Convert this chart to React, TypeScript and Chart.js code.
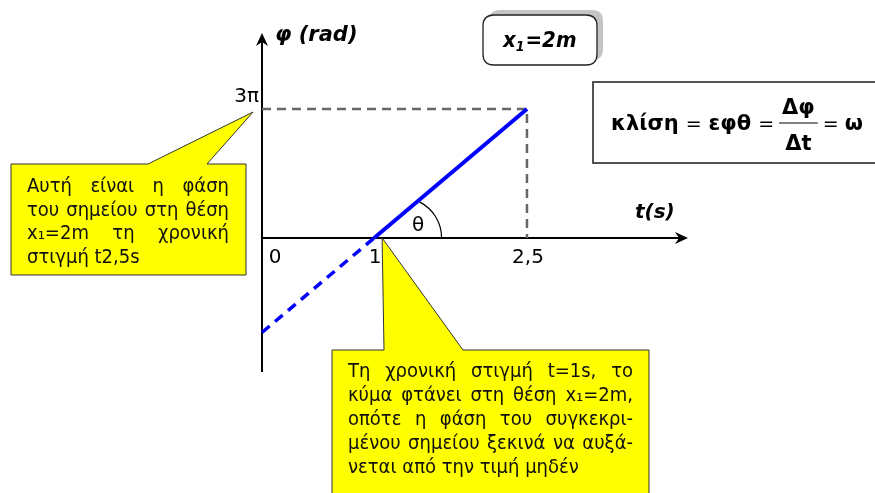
import React, { useEffect, useRef } from "react";
import { Chart, registerables } from "chart.js";

Chart.register(...registerables);

const W = 875;
const H = 493;
const FONT_C = '"DejaVu Sans Condensed", "DejaVu Sans", sans-serif';
const FONT = '"DejaVu Sans", sans-serif';

// φ in units of π rad, t in s
const phaseT = [1, 2.5];
const phaseV = [0, 3];
const extT = [-0.1, 1];
const extV = [-2.2, 0];
const guideT = [-0.1, 2.5, 2.5];
const guideV = [3, 3, 0];
const xTicks = [0, 1, 2.5];
const xTickLabels = ["0", "1", "2,5"];
const yTicks = [3];
const yTickLabels = ["3π"];
const xAxisTitle = "t(s)";
const yAxisTitle = "φ (rad)";
const angleLabel = "θ";
const noteTop = ["Αυτή είναι η φάση", "του σημείου στη θέση", "x₁=2m τη χρονική", "στιγμή t2,5s"];
const noteBottom = [
  "Τη χρονική στιγμή t=1s, το",
  "κύμα φτάνει στη θέση x₁=2m,",
  "οπότε η φάση του συγκεκρι-",
  "μένου σημείου ξεκινά να αυξά-",
  "νεται από την τιμή μηδέν",
];
const badgeParts = ["x", "1", "=2m"];
const formulaParts = ["κλίση", "=", "εφθ", "=", "Δφ", "Δt", "=", "ω"];

function pts(xs: number[], ys: number[]) {
  return xs.map((t, i) => ({ x: t, y: ys[i] }));
}

function justified(ctx: CanvasRenderingContext2D, text: string, x: number, y: number, width: number, just: boolean) {
  if (!just) {
    ctx.fillText(text, x, y);
    return;
  }
  const words = text.split(" ");
  const ws = words.map((w) => ctx.measureText(w).width);
  const total = ws.reduce((a, b) => a + b, 0);
  const gap = words.length > 1 ? (width - total) / (words.length - 1) : 0;
  let cx = x;
  words.forEach((w, i) => {
    ctx.fillText(w, cx, y);
    cx += ws[i] + gap;
  });
}

function arrowHead(ctx: CanvasRenderingContext2D, tx: number, ty: number, dir: "up" | "right") {
  ctx.save();
  ctx.translate(tx, ty);
  if (dir === "up") ctx.rotate(-Math.PI / 2);
  ctx.beginPath();
  ctx.moveTo(0, 0);
  ctx.lineTo(-13, -6);
  ctx.lineTo(-9, 0);
  ctx.lineTo(-13, 6);
  ctx.closePath();
  ctx.fillStyle = "#000";
  ctx.fill();
  ctx.restore();
}

const overlay = {
  id: "overlay",
  beforeDatasetsDraw(chart: any) {
    const { ctx, chartArea: a, scales } = chart;
    const xs = scales.x;
    const ys = scales.y;
    const x0 = a.left;
    const y0 = ys.getPixelForValue(0);
    ctx.save();
    ctx.strokeStyle = "#000";
    ctx.lineWidth = 2;
    ctx.beginPath();
    ctx.moveTo(x0, a.bottom);
    ctx.lineTo(x0, a.top + 6);
    ctx.moveTo(x0, y0);
    ctx.lineTo(a.right - 6, y0);
    ctx.stroke();
    arrowHead(ctx, x0, a.top, "up");
    arrowHead(ctx, a.right, y0, "right");

    // angle arc
    const cx = xs.getPixelForValue(1);
    ctx.lineWidth = 1.2;
    ctx.beginPath();
    ctx.arc(cx + 27, y0, 40.5, -1.1, 0);
    ctx.stroke();
    ctx.restore();
  },
  afterDatasetsDraw(chart: any) {
    const { ctx, chartArea: a, scales } = chart;
    const xs = scales.x;
    const ys = scales.y;
    const x0 = a.left;
    const y0 = ys.getPixelForValue(0);
    ctx.save();
    ctx.fillStyle = "#000";
    ctx.textBaseline = "alphabetic";

    // tick labels
    ctx.font = `20px ${FONT}`;
    ctx.textAlign = "center";
    xTicks.forEach((v, i) => {
      ctx.fillText(xTickLabels[i], xs.getPixelForValue(v) + (v === 0 ? 3 : 1), y0 + 25);
    });
    ctx.textAlign = "right";
    yTicks.forEach((v, i) => {
      ctx.fillText(yTickLabels[i], x0 - 3, ys.getPixelForValue(v) - 7);
    });

    // theta
    ctx.textAlign = "center";
    ctx.fillText(angleLabel, xs.getPixelForValue(1) + 44, y0 - 7);

    // axis titles
    ctx.textAlign = "left";
    ctx.font = `italic bold 21px ${FONT}`;
    ctx.fillText(yAxisTitle, x0 + 13, a.top + 8);
    ctx.font = `italic bold 20px ${FONT}`;
    ctx.fillText(xAxisTitle, 635, y0 - 20);

    // top-left callout
    const tip1x = x0 - 9;
    const tip1y = ys.getPixelForValue(3) + 3;
    ctx.beginPath();
    ctx.moveTo(11, 164);
    ctx.lineTo(148, 164);
    ctx.lineTo(tip1x, tip1y);
    ctx.lineTo(207, 164);
    ctx.lineTo(246, 164);
    ctx.lineTo(246, 275);
    ctx.lineTo(11, 275);
    ctx.closePath();
    ctx.fillStyle = "#ffff00";
    ctx.fill();
    ctx.strokeStyle = "#333";
    ctx.lineWidth = 1;
    ctx.stroke();

    ctx.fillStyle = "#111";
    ctx.font = `20px ${FONT_C}`;
    ctx.textAlign = "left";
    noteTop.forEach((line, i) => {
      justified(ctx, line, 27, 192 + i * 23.7, 202, i < noteTop.length - 1);
    });

    // bottom callout
    const tip2x = xs.getPixelForValue(1) + 8;
    ctx.beginPath();
    ctx.moveTo(332, 350);
    ctx.lineTo(384, 350);
    ctx.lineTo(tip2x, y0);
    ctx.lineTo(463, 350);
    ctx.lineTo(649, 350);
    ctx.lineTo(649, H + 5);
    ctx.lineTo(332, H + 5);
    ctx.closePath();
    ctx.fillStyle = "#ffff00";
    ctx.fill();
    ctx.strokeStyle = "#333";
    ctx.stroke();

    ctx.fillStyle = "#111";
    noteBottom.forEach((line, i) => {
      justified(ctx, line, 348, 377 + i * 24, 285, i < noteBottom.length - 1);
    });

    // badge x1=2m with shadow
    const rr = (x: number, y: number, w: number, h: number, r: number) => {
      ctx.beginPath();
      ctx.moveTo(x + r, y);
      ctx.lineTo(x + w - r, y);
      ctx.quadraticCurveTo(x + w, y, x + w, y + r);
      ctx.lineTo(x + w, y + h - r);
      ctx.quadraticCurveTo(x + w, y + h, x + w - r, y + h);
      ctx.lineTo(x + r, y + h);
      ctx.quadraticCurveTo(x, y + h, x, y + h - r);
      ctx.lineTo(x, y + r);
      ctx.quadraticCurveTo(x, y, x + r, y);
      ctx.closePath();
    };
    rr(489, 10, 114, 50, 11);
    ctx.fillStyle = "#c4c4c4";
    ctx.fill();
    rr(483, 15, 114, 50, 11);
    ctx.fillStyle = "#fff";
    ctx.fill();
    ctx.strokeStyle = "#222";
    ctx.lineWidth = 1.3;
    ctx.stroke();

    ctx.fillStyle = "#000";
    let bx = 503;
    ctx.font = `italic bold 22px ${FONT_C}`;
    ctx.fillText(badgeParts[0], bx, 47);
    bx += ctx.measureText(badgeParts[0]).width;
    ctx.font = `italic bold 14px ${FONT_C}`;
    ctx.fillText(badgeParts[1], bx, 51);
    bx += ctx.measureText(badgeParts[1]).width + 1;
    ctx.font = `italic bold 22px ${FONT_C}`;
    ctx.fillText(badgeParts[2], bx, 47);

    // formula box
    ctx.strokeStyle = "#404040";
    ctx.lineWidth = 1.8;
    ctx.strokeRect(593, 82, 300, 81);

    const boldF = `bold 21px ${FONT}`;
    const eqF = `19px ${FONT}`;
    const base = 130;
    let fx = 611;
    const put = (t: string, f: string, gapAfter: number) => {
      ctx.font = f;
      ctx.textAlign = "left";
      ctx.fillText(t, fx, base);
      fx += ctx.measureText(t).width + gapAfter;
    };
    put(formulaParts[0], boldF, 7);
    put(formulaParts[1], eqF, 7);
    put(formulaParts[2], boldF, 7);
    put(formulaParts[3], eqF, 5);
    ctx.font = boldF;
    const wNum = ctx.measureText(formulaParts[4]).width;
    const wDen = ctx.measureText(formulaParts[5]).width;
    const fw = Math.max(wNum, wDen) + 6;
    const fc = fx + fw / 2;
    ctx.textAlign = "center";
    ctx.fillText(formulaParts[4], fc, 114);
    ctx.fillText(formulaParts[5], fc, 150);
    ctx.lineWidth = 1.2;
    ctx.strokeStyle = "#000";
    ctx.beginPath();
    ctx.moveTo(fx, 123);
    ctx.lineTo(fx + fw, 123);
    ctx.stroke();
    fx += fw + 5;
    put(formulaParts[6], eqF, 6);
    put(formulaParts[7], boldF, 0);

    ctx.restore();
  },
};

export default function App() {
  const ref = useRef<HTMLCanvasElement | null>(null);
  useEffect(() => {
    if (!ref.current) return;
    const chart = new Chart(ref.current, {
      type: "line",
      data: {
        datasets: [
          {
            data: pts(phaseT, phaseV),
            borderColor: "#0000ff",
            borderWidth: 4,
            pointRadius: 0,
            clip: false as any,
            order: 0,
          },
          {
            data: pts(extT, extV),
            borderColor: "#0000ff",
            borderWidth: 3.5,
            borderDash: [10, 7],
            pointRadius: 0,
            clip: false as any,
            order: 1,
          },
          {
            data: pts(guideT, guideV),
            borderColor: "#666666",
            borderWidth: 2.5,
            borderDash: [9, 6],
            pointRadius: 0,
            clip: false as any,
            order: 2,
          },
        ],
      },
      options: {
        responsive: false,
        animation: false,
        devicePixelRatio: 1,
        layout: { padding: { left: 262, right: 187, top: 33, bottom: 121 } },
        plugins: { legend: { display: false }, tooltip: { enabled: false } },
        scales: {
          x: { type: "linear", min: -0.1, max: 4.08, display: false },
          y: { type: "linear", min: -3.12, max: 4.77, display: false },
        },
        events: [],
      },
      plugins: [overlay],
    });
    return () => chart.destroy();
  }, []);
  return (
    <div style={{ position: "fixed", left: 0, top: 0, width: W, height: H, background: "#fff" }}>
      <canvas ref={ref} width={W} height={H} style={{ display: "block" }} />
    </div>
  );
}
